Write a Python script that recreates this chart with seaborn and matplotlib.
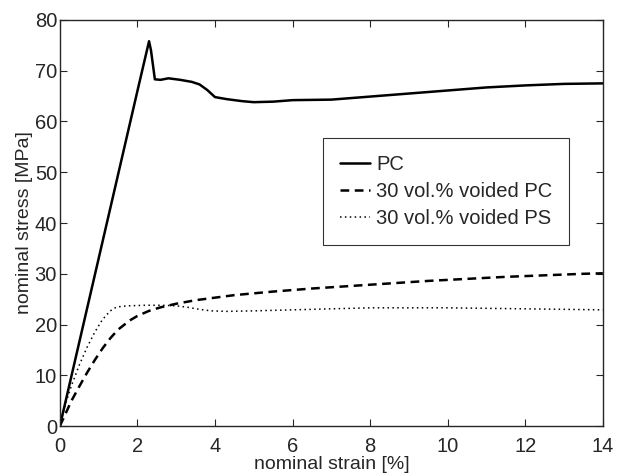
import numpy as np
import pandas as pd
import seaborn as sns
from matplotlib import pyplot as plt

sns.set_style("ticks")
plt.rcParams['font.family'] = ['Liberation Sans', 'DejaVu Sans']

# strain [%] and stress [MPa]
pc_strain = [0, 0.5, 1.0, 1.5, 2.0, 2.3, 2.35, 2.45, 2.6, 2.8, 3.1, 3.4, 3.6, 3.8, 4.0, 4.3, 4.7, 5.0, 5.5, 6.0, 7.0, 8.0, 9.0, 10.0, 11.0, 12.0, 13.0, 14.0]
pc_stress = [0, 16.5, 33, 49.5, 66, 75.8, 74, 68.3, 68.2, 68.5, 68.2, 67.8, 67.3, 66.2, 64.8, 64.4, 64.0, 63.8, 63.9, 64.2, 64.3, 64.9, 65.5, 66.1, 66.7, 67.1, 67.4, 67.5]

vpc_strain = [0, 0.15, 0.3, 0.5, 0.7, 0.9, 1.1, 1.3, 1.5, 1.8, 2.0, 2.3, 2.6, 3.0, 3.5, 4.0, 4.5, 5.5, 6.5, 7.5, 8.5, 9.5, 10.5, 11.5, 12.5, 13.5, 14.0]
vpc_stress = [0, 2.5, 5, 7.8, 10.5, 13.0, 15.3, 17.3, 19.0, 20.8, 21.7, 22.7, 23.4, 24.1, 24.8, 25.3, 25.8, 26.5, 27.1, 27.6, 28.1, 28.6, 29.0, 29.4, 29.7, 30.0, 30.1]

vps_strain = [0, 0.15, 0.3, 0.5, 0.7, 0.9, 1.1, 1.3, 1.45, 1.6, 1.8, 2.2, 2.6, 3.0, 3.3, 3.6, 3.9, 4.3, 5.0, 6.0, 7.0, 8.0, 9.0, 10.0, 11.0, 12.0, 13.0, 14.0]
vps_stress = [0, 4.5, 8, 12, 15.5, 18.5, 21.0, 22.7, 23.4, 23.6, 23.7, 23.8, 23.8, 23.7, 23.4, 23.0, 22.7, 22.6, 22.7, 22.9, 23.1, 23.3, 23.3, 23.3, 23.2, 23.1, 23.0, 22.9]

fig = plt.figure(figsize=(6.17, 4.74), dpi=100)
ax = fig.add_axes([0.097, 0.101, 0.880, 0.857])

sns.lineplot(x=pc_strain, y=pc_stress, color="k", lw=1.8, linestyle="-", label="PC", ax=ax)
sns.lineplot(x=vpc_strain, y=vpc_stress, color="k", lw=1.8, linestyle=(0, (3.5, 2.2)), label="30 vol.% voided PC", ax=ax)
sns.lineplot(x=vps_strain, y=vps_stress, color="k", lw=1.1, linestyle=(0, (1, 2.2)), label="30 vol.% voided PS", ax=ax)

ax.set_xlim(0, 14)
ax.set_ylim(0, 80)
ax.set_xticks(range(0, 15, 2))
ax.set_yticks(range(0, 81, 10))
ax.tick_params(direction="in", top=True, right=True, labelsize=14.5, length=5, width=0.8)
ax.tick_params(axis="x", pad=8)
ax.tick_params(axis="y", pad=2)
for s in ax.spines.values():
    s.set_linewidth(1.0)
ax.set_xlabel("nominal strain [%]", fontsize=14, labelpad=0)
ax.set_ylabel("nominal stress [MPa]", fontsize=14, labelpad=1)

leg = ax.legend(loc="upper left", bbox_to_anchor=(0.484, 0.709), fontsize=14.5, frameon=True,
                fancybox=False, edgecolor="k", handlelength=1.5, handletextpad=0.3,
                borderpad=0.85, borderaxespad=0, labelspacing=0.4)
leg.get_frame().set_linewidth(0.8)

fig.savefig("out.png", dpi=100)
